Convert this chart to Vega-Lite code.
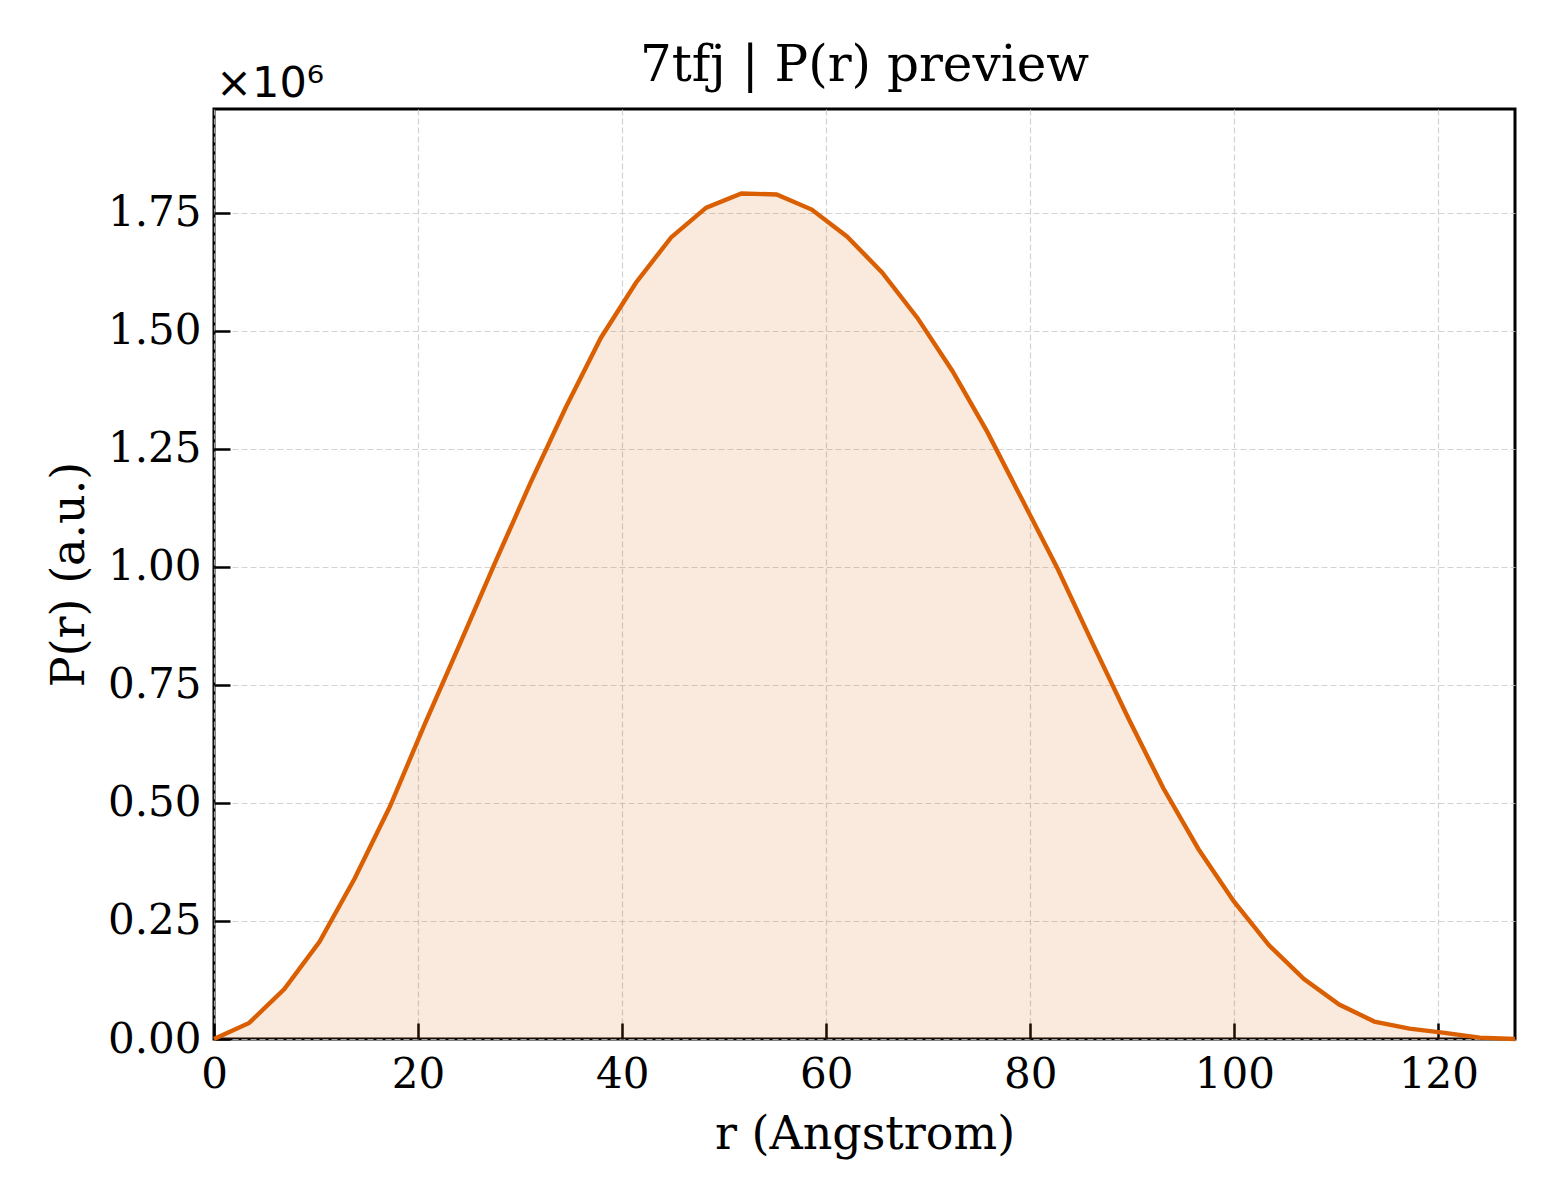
{
  "$schema": "https://vega.github.io/schema/vega-lite/v6.json",
  "width": 1301,
  "height": 930,
  "padding": {"left": 46, "top": 41, "right": 40, "bottom": 20},
  "background": "white",
  "title": {
    "text": "7tfj | P(r) preview",
    "font": "DejaVu Serif",
    "fontSize": 50,
    "fontWeight": "normal",
    "color": "black",
    "anchor": "middle",
    "offset": -28
  },
  "data": {
    "values": [
      {"r": 0.000, "p": 0},
      {"r": 3.446, "p": 34000},
      {"r": 6.892, "p": 106000},
      {"r": 10.338, "p": 206000},
      {"r": 13.784, "p": 340000},
      {"r": 17.230, "p": 492000},
      {"r": 20.676, "p": 668000},
      {"r": 24.122, "p": 838000},
      {"r": 27.568, "p": 1010000},
      {"r": 31.014, "p": 1178000},
      {"r": 34.459, "p": 1337000},
      {"r": 37.905, "p": 1485000},
      {"r": 41.351, "p": 1602000},
      {"r": 44.797, "p": 1698000},
      {"r": 48.243, "p": 1761000},
      {"r": 51.689, "p": 1791000},
      {"r": 55.135, "p": 1789000},
      {"r": 58.581, "p": 1757000},
      {"r": 62.027, "p": 1700000},
      {"r": 65.473, "p": 1624000},
      {"r": 68.919, "p": 1528000},
      {"r": 72.365, "p": 1415000},
      {"r": 75.811, "p": 1285000},
      {"r": 79.257, "p": 1140000},
      {"r": 82.703, "p": 995000},
      {"r": 86.149, "p": 836000},
      {"r": 89.595, "p": 680000},
      {"r": 93.041, "p": 531000},
      {"r": 96.486, "p": 402000},
      {"r": 99.932, "p": 292000},
      {"r": 103.378, "p": 199000},
      {"r": 106.824, "p": 127000},
      {"r": 110.270, "p": 73000},
      {"r": 113.716, "p": 37000},
      {"r": 117.162, "p": 22000},
      {"r": 120.608, "p": 13000},
      {"r": 124.054, "p": 3000},
      {"r": 127.500, "p": 0}
    ]
  },
  "layer": [
    {
      "mark": {"type": "area", "color": "#D95F02", "fillOpacity": 0.13},
      "encoding": {
        "x": {
          "field": "r",
          "type": "quantitative",
          "title": "r (Angstrom)",
          "scale": {"domain": [0, 127.5], "nice": false, "zero": false},
          "axis": {
            "values": [0, 20, 40, 60, 80, 100, 120],
            "format": "d",
            "labelFlush": false,
            "labelPadding": 31,
            "titlePadding": 17
          }
        },
        "y": {
          "field": "p",
          "type": "quantitative",
          "title": "P(r) (a.u.)",
          "scale": {"domain": [0, 1970000], "nice": false},
          "axis": {
            "values": [0, 250000, 500000, 750000, 1000000, 1250000, 1500000, 1750000],
            "labelExpr": "format(datum.value / 1000000, '.2f')",
            "labelFlush": false,
            "labelPadding": 29,
            "titlePadding": 14
          }
        }
      }
    },
    {
      "mark": {"type": "line", "color": "#D95F02", "strokeWidth": 4.4},
      "encoding": {
        "x": {"field": "r", "type": "quantitative"},
        "y": {"field": "p", "type": "quantitative"}
      }
    },
    {
      "data": {"values": [{"r": 0, "p": 1970000, "label": "×10⁶"}]},
      "mark": {
        "type": "text",
        "font": "DejaVu Sans",
        "fontSize": 43,
        "align": "left",
        "baseline": "bottom",
        "dx": 2,
        "dy": -3,
        "color": "black"
      },
      "encoding": {
        "x": {"field": "r", "type": "quantitative"},
        "y": {"field": "p", "type": "quantitative"},
        "text": {"field": "label", "type": "nominal"}
      }
    }
  ],
  "config": {
    "view": {"stroke": "black", "strokeWidth": 3},
    "axis": {
      "domain": false,
      "grid": true,
      "gridColor": "#c8c8c8",
      "gridOpacity": 0.8,
      "gridWidth": 1.2,
      "gridDash": [6, 3],
      "ticks": true,
      "tickSize": -16,
      "tickWidth": 2.5,
      "tickColor": "black",
      "labelFont": "DejaVu Serif",
      "labelFontSize": 42,
      "labelColor": "black",
      "titleFont": "DejaVu Serif",
      "titleFontSize": 46,
      "titleFontWeight": "normal",
      "titleColor": "black"
    }
  }
}
